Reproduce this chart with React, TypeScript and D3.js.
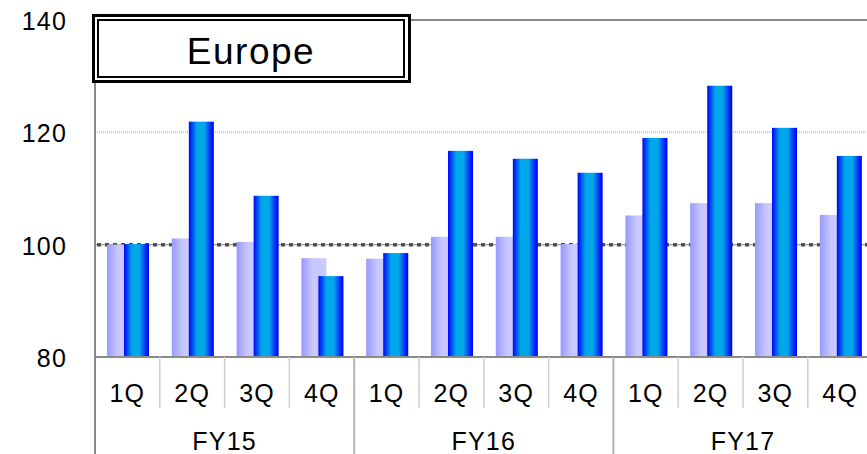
import React, { useEffect, useRef } from "react";
import * as d3 from "d3";

// Quarterly index values (previous year = 100)
const years = ["FY15", "FY16", "FY17"];
const quarters = ["1Q", "2Q", "3Q", "4Q"];
const seriesLight = [100.0, 101.1, 100.5, 97.6, 97.5, 101.4, 101.4, 100.1, 105.2, 107.4, 107.4, 105.3];
const seriesBlue = [100.1, 121.9, 108.7, 94.4, 98.5, 116.7, 115.3, 112.8, 119.0, 128.3, 120.8, 115.8];
const yTicks = [80, 100, 120, 140];
const title = "Europe";

const W = 867;
const H = 454;

export default function App() {
  const ref = useRef<SVGSVGElement | null>(null);

  useEffect(() => {
    const svg = d3.select(ref.current);
    svg.selectAll("*").remove();

    const left = 95;
    const top = 20;
    const bottom = 357;
    const catW = 64.8;
    const cats = years.flatMap((y) => quarters.map((q) => `${y}-${q}`));

    const x = d3.scaleBand<string>().domain(cats).range([left, left + catW * cats.length]).padding(0);
    const y = d3.scaleLinear().domain([80, 140]).range([bottom, top]);
    const bw = x.bandwidth();

    const defs = svg.append("defs");
    const gLight = defs.append("linearGradient").attr("id", "gLight").attr("x1", "0").attr("x2", "1").attr("y1", "0").attr("y2", "0");
    [["0", "#9898ff"], ["0.45", "#c8c8ff"], ["1", "#cccbff"]].forEach(([o, c]) =>
      gLight.append("stop").attr("offset", o).attr("stop-color", c));
    const gBlue = defs.append("linearGradient").attr("id", "gBlue").attr("x1", "0").attr("x2", "1").attr("y1", "0").attr("y2", "0");
    [["0", "#0000ff"], ["0.1", "#0038f4"], ["0.32", "#00a8ea"], ["0.62", "#00a8ea"], ["0.86", "#0030f8"], ["1", "#0000ff"]].forEach(([o, c]) =>
      gBlue.append("stop").attr("offset", o).attr("stop-color", c));

    const fontFamily = "'Liberation Sans', Arial, sans-serif";

    // gridline at 120
    svg.append("line")
      .attr("x1", left).attr("x2", W)
      .attr("y1", y(120)).attr("y2", y(120))
      .attr("stroke", "#c8c8c8").attr("stroke-width", 2).attr("stroke-dasharray", "1,1");

    // reference line at 100
    svg.append("line")
      .attr("x1", left).attr("x2", W)
      .attr("y1", y(100)).attr("y2", y(100))
      .attr("stroke", "#aaaaaa").attr("stroke-width", 1.5);
    svg.append("line")
      .attr("x1", left + 2).attr("x2", W)
      .attr("y1", y(100)).attr("y2", y(100))
      .attr("stroke", "#505050").attr("stroke-width", 3.5).attr("stroke-dasharray", "4,4");

    // bars
    svg.append("g").selectAll("rect").data(seriesLight).join("rect")
      .attr("x", (_, i) => (x(cats[i]) as number) + bw * 0.185)
      .attr("width", bw * 0.386)
      .attr("y", (d) => y(d))
      .attr("height", (d) => y(80) - y(d))
      .attr("fill", "url(#gLight)");
    svg.append("g").selectAll("rect").data(seriesBlue).join("rect")
      .attr("x", (_, i) => (x(cats[i]) as number) + bw * 0.448)
      .attr("width", bw * 0.386)
      .attr("y", (d) => y(d))
      .attr("height", (d) => y(80) - y(d))
      .attr("fill", "url(#gBlue)");

    // plot frame: top border, left axis, bottom axis
    svg.append("line").attr("x1", left).attr("x2", W).attr("y1", y(140)).attr("y2", y(140))
      .attr("stroke", "#8a8a8a").attr("stroke-width", 2);
    svg.append("line").attr("x1", left).attr("x2", left).attr("y1", y(140)).attr("y2", H)
      .attr("stroke", "#8a8a8a").attr("stroke-width", 2);
    svg.append("line").attr("x1", left).attr("x2", W).attr("y1", bottom).attr("y2", bottom)
      .attr("stroke", "#8a8a8a").attr("stroke-width", 2);

    // category dividers
    cats.forEach((c, i) => {
      if (i === 0) return;
      const xx = x(c) as number;
      const isYear = i % quarters.length === 0;
      svg.append("line").attr("x1", xx).attr("x2", xx)
        .attr("y1", bottom).attr("y2", isYear ? H : 408)
        .attr("stroke", isYear ? "#b4b4b4" : "#cfcfcf").attr("stroke-width", isYear ? 2 : 1.5);
    });

    // quarter labels
    svg.append("g").selectAll("text").data(cats).join("text")
      .attr("x", (c) => (x(c) as number) + bw / 2)
      .attr("y", 393)
      .attr("text-anchor", "middle")
      .attr("dominant-baseline", "central")
      .attr("font-family", fontFamily)
      .attr("font-size", 25)
      .attr("letter-spacing", 1.2)
      .attr("fill", "#000")
      .text((c) => c.split("-")[1]);

    // year labels
    svg.append("g").selectAll("text").data(years).join("text")
      .attr("x", (yr, i) => (x(cats[i * 4]) as number) + (bw * quarters.length) / 2)
      .attr("y", 441)
      .attr("text-anchor", "middle")
      .attr("dominant-baseline", "central")
      .attr("font-family", fontFamily)
      .attr("font-size", 25)
      .attr("letter-spacing", 1.2)
      .attr("fill", "#000")
      .text((yr) => yr);

    // y tick labels
    svg.append("g").selectAll("text").data(yTicks).join("text")
      .attr("x", 67)
      .attr("y", (d) => y(d) + 1)
      .attr("text-anchor", "end")
      .attr("dominant-baseline", "central")
      .attr("font-family", fontFamily)
      .attr("font-size", 25)
      .attr("letter-spacing", 1.2)
      .attr("fill", "#000")
      .text((d) => String(d));

    // title box with double border
    svg.append("rect").attr("x", 93.5).attr("y", 15.5).attr("width", 316).attr("height", 66)
      .attr("fill", "#fff").attr("stroke", "#000").attr("stroke-width", 3);
    svg.append("rect").attr("x", 98).attr("y", 20).attr("width", 306).attr("height", 57)
      .attr("fill", "#fff").attr("stroke", "#000").attr("stroke-width", 2);
    svg.append("text")
      .attr("x", 251).attr("y", 51)
      .attr("text-anchor", "middle")
      .attr("dominant-baseline", "central")
      .attr("font-family", fontFamily)
      .attr("font-size", 37)
      .attr("letter-spacing", 1.5)
      .attr("fill", "#000")
      .text(title);
  }, []);

  return (
    <svg
      ref={ref}
      width={W}
      height={H}
      style={{ position: "fixed", top: 0, left: 0, display: "block", background: "#fff" }}
    />
  );
}
